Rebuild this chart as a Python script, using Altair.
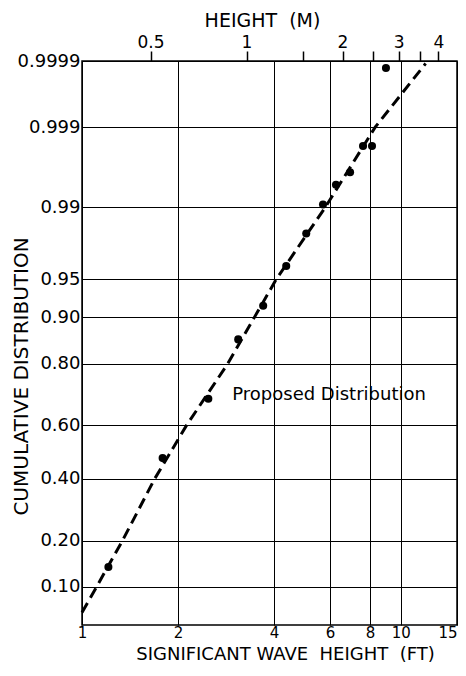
import altair as alt
import pandas as pd
from statistics import NormalDist

FT_PER_M = 3.28084

# Observed points (wave height in ft, cumulative probability)
obs_ft = [1.21, 1.79, 2.49, 3.09, 3.70, 4.37, 5.05, 5.70, 6.26, 6.93, 7.61, 8.12, 8.98]
obs_F = [0.137, 0.477, 0.694, 0.858, 0.918, 0.9616, 0.9812, 0.9907, 0.9945, 0.9961, 0.9982, 0.9982, 0.99987]

# Proposed distribution (dashed line)
line_ft = [1.0, 1.111, 1.340, 1.691, 2.127, 2.867, 4.07, 5.79, 8.31, 11.96]
line_F = [0.0635, 0.10, 0.20, 0.40, 0.60, 0.80, 0.95, 0.99, 0.999, 0.99989]

# Axes
y_ticks = [0.10, 0.20, 0.40, 0.60, 0.80, 0.90, 0.95, 0.99, 0.999, 0.9999]
y_labels = ["0.10", "0.20", "0.40", "0.60", "0.80", "0.90", "0.95", "0.99", "0.999", "0.9999"]
y_range = [0.05, 0.9999]
x_ticks_ft = [1, 2, 4, 6, 8, 10, 15]
x_range_ft = [1, 15]
x_ticks_m = [0.5, 1, 1.5, 2, 2.5, 3, 3.5, 4]
x_labels_m = [0.5, 1, 2, 3, 4]

annot_text = ["Proposed Distribution"]
annot_ft = [2.96]
annot_F = [0.707]

FONT = "DejaVu Sans"
NB = "\u00a0"

nd = NormalDist()
y_tick_z = [nd.inv_cdf(p) for p in y_ticks]
y_domain = [nd.inv_cdf(p) for p in y_range]

expr = "''"
for z, lab in zip(reversed(y_tick_z), reversed(y_labels)):
    expr = f"abs(datum.value - ({z:.8f})) < 1e-4 ? '{lab}' : ({expr})"
y_label_expr = expr

obs = pd.DataFrame({"ft": obs_ft, "F": obs_F})
line = pd.DataFrame({"ft": line_ft, "F": line_F})
annot = pd.DataFrame({"ft": annot_ft, "F": annot_F, "t": annot_text})

xscale = alt.Scale(type="log", domain=x_range_ft, nice=False)
yscale = alt.Scale(domain=y_domain, nice=False, zero=False)

x_axis = alt.Axis(
    orient="bottom", values=x_ticks_ft, labelExpr="format(datum.value, '~g')",
    grid=True, gridColor="black", gridWidth=1, gridOpacity=1, ticks=False, domain=False,
    labelPadding=0, labelFont=FONT, labelFontSize=15, labelColor="black",
    labelFlush=False, labelOverlap=False,
    labelAlign={"condition": {"test": f"datum.value >= {x_range_ft[1]}", "value": "right"}, "value": "center"},
    title=f"SIGNIFICANT{NB}WAVE{NB}{NB}HEIGHT{NB}{NB}(FT)", titleFont=FONT, titleFontSize=18,
    titleFontWeight="normal", titleColor="black", titleX=203, titleY=34,
    titleBaseline="alphabetic", titleAlign="center",
)
y_axis = alt.Axis(
    orient="left", values=y_tick_z, labelExpr=y_label_expr,
    grid=True, gridColor="black", gridWidth=1, gridOpacity=1, ticks=False, domain=False,
    labelPadding=2, labelFont=FONT, labelFontSize=18, labelColor="black",
    labelFlush=False, labelOverlap=False,
    title="CUMULATIVE DISTRIBUTION", titleFont=FONT, titleFontSize=20,
    titleFontWeight="normal", titleColor="black", titleX=-61, titleY=315,
    titleAngle=270, titleBaseline="middle", titleAlign="center",
)
top_axis = alt.Axis(
    orient="top", values=x_ticks_m,
    labelExpr="indexof(" + str(x_labels_m) + ", datum.value) >= 0 ? format(datum.value, '~g') : ''",
    grid=False, ticks=True, tickSize=10, tickColor="black", tickWidth=1.5, domain=False,
    labelPadding=0, labelFont=FONT, labelFontSize=17, labelColor="black",
    labelFlush=False, labelOverlap=False,
    title=f"HEIGHT{NB}{NB}(M)", titleFont=FONT, titleFontSize=19, titleFontWeight="normal",
    titleColor="black", titleX=180, titleY=-35, titleBaseline="alphabetic", titleAlign="center",
)

zcalc = "quantileNormal(datum.F)"
X = alt.X("ft:Q", scale=xscale, axis=x_axis)
Y = alt.Y("z:Q", scale=yscale, axis=y_axis)

line_layer = alt.Chart(line).transform_calculate(z=zcalc).mark_line(
    color="black", strokeWidth=3, strokeDash=[11, 6]
).encode(x=X, y=Y)

pts_layer = alt.Chart(obs).transform_calculate(z=zcalc).mark_circle(
    color="black", opacity=1, size=65
).encode(x=X, y=Y)

text_layer = alt.Chart(annot).transform_calculate(z=zcalc).mark_text(
    align="left", baseline="middle", font=FONT, fontSize=18, color="black"
).encode(x=X, y=Y, text="t:N")

meter_layer = alt.Chart(obs).transform_calculate(
    z=zcalc, m=f"datum.ft / {FT_PER_M}"
).mark_point(opacity=0).encode(
    x=alt.X("m:Q", scale=alt.Scale(type="log", domain=[x_range_ft[0] / FT_PER_M, x_range_ft[1] / FT_PER_M], nice=False), axis=top_axis),
    y=Y,
)

base = alt.layer(line_layer, pts_layer, text_layer)
chart = alt.layer(base, meter_layer).resolve_scale(x="independent").properties(
    width=375, height=564,
    background="white",
    autosize=alt.AutoSizeParams(type="none"),
    padding={"left": 74, "top": 53, "right": 1, "bottom": 39},
).configure_view(stroke="black", strokeWidth=1.5)

chart.save("out.html", embed_options={"renderer": "svg", "actions": False})
